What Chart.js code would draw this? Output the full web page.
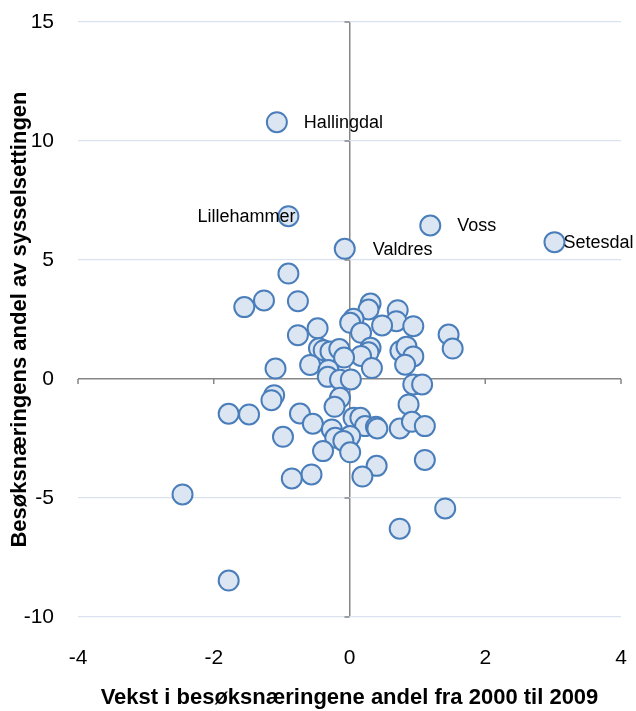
<!DOCTYPE html>
<html>
<head>
<meta charset="utf-8">
<script src="https://cdn.jsdelivr.net/npm/chart.js@4"></script>
<style>
  html, body { margin: 0; padding: 0; background: #fff; }
  #wrap { width: 636px; height: 711px; }
</style>
</head>
<body>
<div id="wrap"><canvas id="chart" width="636" height="711"></canvas></div>
<script>
// growth in visitor-industry share 2000-2009 (x) vs visitor-industry share of employment (y)
const xValues = [
  -1.07, -0.90, -0.07, 1.19, 3.02,
  -0.90, -1.26, -1.55, -0.76, 0.31, 0.28, 0.71, 0.69, 0.48, 0.94,
  0.06, 0.01, 0.17, -0.47, -0.76, 1.46, 1.52, -0.45, -0.38, -0.28,
  -0.15, 0.31, 0.28, 0.17, -0.08, 0.75, 0.84, 0.94, 0.82, -0.58,
  0.33, -1.09, -0.31, -0.32, -0.14, 0.02, 0.94, 1.07, -1.11, -1.15,
  -0.14, -0.22, 0.87, -1.78, -1.48, -0.73, -0.54, 0.06, 0.16, 0.23,
  0.39, 0.41, 0.74, 0.92, 1.11, -0.26, -0.21, 0.01, -0.09, 0.01,
  -0.39, -0.98, 1.11, 0.40, 0.19, -0.56, -0.85, -2.46, 1.41, 0.74,
  -1.78
];
const yValues = [
  10.79, 6.84, 5.47, 6.45, 5.75,
  4.43, 3.30, 3.02, 3.27, 3.17, 2.92, 2.89, 2.43, 2.25, 2.22,
  2.53, 2.36, 1.94, 2.13, 1.84, 1.87, 1.28, 1.29, 1.21, 1.16,
  1.26, 1.31, 1.12, 0.97, 0.90, 1.18, 1.36, 0.95, 0.60, 0.59,
  0.46, 0.44, 0.38, 0.09, -0.03, -0.02, -0.23, -0.23, -0.68, -0.89,
  -0.79, -1.17, -1.07, -1.46, -1.49, -1.45, -1.88, -1.63, -1.63, -1.98,
  -2.01, -2.08, -2.08, -1.80, -1.98, -2.12, -2.47, -2.40, -2.60, -3.08,
  -3.03, -2.43, -3.40, -3.65, -4.10, -4.01, -4.18, -4.85, -5.44, -6.29,
  -8.47
];
const pointNames = ['Hallingdal', 'Lillehammer', 'Valdres', 'Voss', 'Setesdal'];

const xTicks = [-4, -2, 0, 2, 4];
const yTicks = [-10, -5, 0, 5, 10, 15];
const xTitle = 'Vekst i besøksnæringene andel fra 2000 til 2009';
const yTitle = 'Besøksnæringens andel av sysselsettingen';

const FONT = "'Liberation Sans', Arial, sans-serif";
const AXIS_GREY = '#868686';
const GRID_BLUE = '#d9e3f0';

const points = xValues.map((x, i) => ({ x: x, y: yValues[i] }));

// label placement next to the named points (dx from point centre, alignment)
const labelPlace = {
  Hallingdal: { dx: 27, align: 'left' },
  Lillehammer: { dx: 7, align: 'right' },
  Valdres: { dx: 28, align: 'left' },
  Voss: { dx: 27, align: 'left' },
  Setesdal: { dx: 9, align: 'left' }
};

const pointLabels = {
  id: 'pointLabels',
  afterDatasetsDraw(chart) {
    const ctx = chart.ctx;
    const meta = chart.getDatasetMeta(0);
    ctx.save();
    ctx.font = '18px ' + FONT;
    ctx.fillStyle = '#000';
    ctx.textBaseline = 'middle';
    pointNames.forEach((name, i) => {
      const el = meta.data[i];
      const p = labelPlace[name];
      ctx.textAlign = p.align;
      ctx.fillText(name, el.x + p.dx, el.y + 1);
    });
    ctx.restore();
  }
};

// small tick marks on the zero axes
const axisTicks = {
  id: 'axisTicks',
  beforeDatasetsDraw(chart) {
    const ctx = chart.ctx;
    const xs = chart.scales.x, ys = chart.scales.y;
    const x0 = xs.getPixelForValue(0), y0 = ys.getPixelForValue(0);
    ctx.save();
    ctx.strokeStyle = AXIS_GREY;
    ctx.lineWidth = 1.5;
    ctx.beginPath();
    xTicks.forEach(v => {
      if (v === 0) return;
      const px = xs.getPixelForValue(v);
      ctx.moveTo(px, y0);
      ctx.lineTo(px, y0 + 5);
    });
    yTicks.forEach(v => {
      if (v === 0) return;
      const py = ys.getPixelForValue(v);
      ctx.moveTo(x0, py);
      ctx.lineTo(x0 - 5, py);
    });
    ctx.stroke();
    ctx.restore();
  }
};

new Chart(document.getElementById('chart').getContext('2d'), {
  type: 'scatter',
  data: {
    datasets: [{
      data: points,
      backgroundColor: '#dce6f2',
      borderColor: '#4a7ebb',
      borderWidth: 2,
      pointRadius: 10,
      pointHoverRadius: 10
    }]
  },
  options: {
    responsive: false,
    animation: false,
    events: [],
    layout: { padding: { top: 22, right: 15, left: 0, bottom: 0 } },
    plugins: {
      legend: { display: false },
      tooltip: { enabled: false }
    },
    scales: {
      x: {
        type: 'linear',
        min: -4,
        max: 4,
        afterBuildTicks: s => { s.ticks = xTicks.map(v => ({ value: v })); },
        afterFit: s => { s.height = 94; s.paddingLeft = 0; s.paddingRight = 0; },
        border: { display: false },
        grid: {
          drawTicks: false,
          color: c => (c.tick && c.tick.value === 0) ? AXIS_GREY : 'rgba(0,0,0,0)',
          lineWidth: 1.5
        },
        ticks: { color: '#000', padding: 29, font: { family: FONT, size: 21 } },
        title: {
          display: true,
          text: xTitle,
          color: '#000',
          padding: { top: 0, bottom: 0 },
          font: { family: FONT, size: 22, weight: 'bold' }
        }
      },
      y: {
        type: 'linear',
        min: -10,
        max: 15,
        afterBuildTicks: s => { s.ticks = yTicks.map(v => ({ value: v })); },
        afterFit: s => { s.width = 78; s.paddingTop = 0; s.paddingBottom = 0; },
        border: { display: false },
        grid: {
          drawTicks: false,
          color: c => (c.tick && c.tick.value === 0) ? AXIS_GREY : GRID_BLUE,
          lineWidth: c => (c.tick && c.tick.value === 0) ? 1.5 : 1.3
        },
        ticks: { color: '#000', padding: 24, font: { family: FONT, size: 21 } },
        title: {
          display: true,
          text: yTitle,
          color: '#000',
          padding: { top: 7, bottom: 0 },
          font: { family: FONT, size: 22, weight: 'bold' }
        }
      }
    }
  },
  plugins: [axisTicks, pointLabels]
});
</script>
</body>
</html>
